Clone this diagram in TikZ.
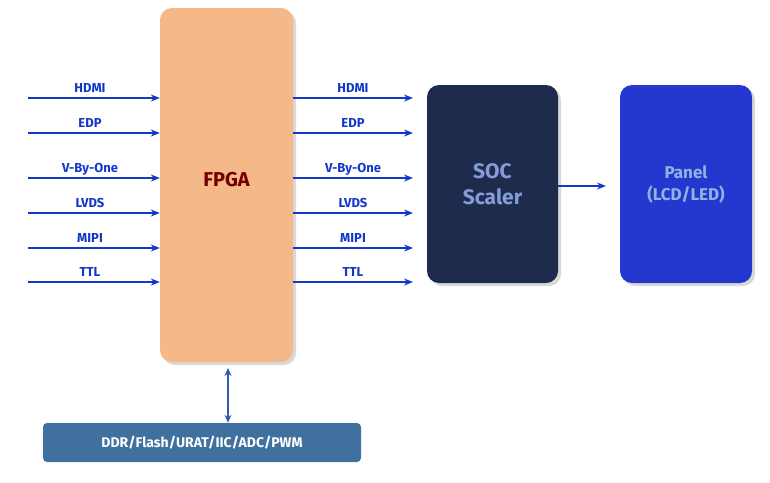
\documentclass[tikz,border=0pt]{standalone}
\usepackage{fontspec}
\setmainfont{Fira Sans}
\usetikzlibrary{arrows.meta}
\definecolor{lblue}{HTML}{1238C8}
\definecolor{fpga}{HTML}{F5B888}
\definecolor{soc}{HTML}{1E2B4C}
\definecolor{panel}{HTML}{2438D0}
\definecolor{bot}{HTML}{40709E}
\tikzset{
 sig/.style={draw=lblue,line width=1.3pt,-{Stealth[length=9pt,width=7pt]}},
 lab/.style={text=lblue,font=\bfseries\fontsize{13}{15}\selectfont,anchor=base},
 blk/.style={rounded corners=12pt,draw=none},
}
\begin{document}
\begin{tikzpicture}[x=1pt,y=-1pt]
\useasboundingbox (0,0) rectangle (770,482);
\fill[blk,black!25,opacity=.6] (163,11) rectangle (296,365);
\node[blk,fill=fpga,minimum width=133pt,minimum height=354pt,inner sep=0pt] (fpga) at (226.5,185) {};
\node[text=red!45!black,font=\bfseries\fontsize{20}{24}\selectfont] at (226.5,180) {FPGA};
\fill[blk,black!25,opacity=.6] (430,88) rectangle (561,286);
\node[blk,fill=soc,minimum width=131pt,minimum height=198pt,inner sep=0pt,text=cyan!40!blue!50!white,font=\bfseries\fontsize{21}{26}\selectfont,align=center] (soc) at (492.5,184) {SOC\\Scaler};
\fill[blk,black!25,opacity=.6] (623,88) rectangle (755,286);
\node[blk,fill=panel,minimum width=132pt,minimum height=198pt,inner sep=0pt,text=cyan!30!white!80!blue,font=\bfseries\fontsize{17}{22}\selectfont,align=center] (panel) at (686,184) {Panel\\(LCD/LED)};
\node[blk,rounded corners=4pt,fill=bot,minimum width=318pt,minimum height=39pt,inner sep=0pt,text=white,font=\bfseries\fontsize{14}{17}\selectfont] (bot) at (202,442.5) {DDR/Flash/URAT/IIC/ADC/PWM};
\foreach \y/\t in {98/HDMI,133/EDP,178/V-By-One,213/LVDS,248/MIPI,282/TTL}{
  \coordinate (i\y) at (28,\y);
  \coordinate (o\y) at (413,\y);
  \draw[sig] (i\y) -- (fpga.west |- i\y);
  \draw[sig] (fpga.east |- o\y) -- (o\y);
  \node[lab] at (90,\y-6) {\t};
  \node[lab] at (353,\y-6) {\t};
}
\draw[sig] (soc.east |- 0,186) -- (606,186);
\draw[line width=1.3pt,draw=bot!80!blue,{Stealth[length=8pt,width=7pt]}-{Stealth[length=8pt,width=7pt]}] (228,368) -- (bot.north -| 228,0);
\end{tikzpicture}
\end{document}
